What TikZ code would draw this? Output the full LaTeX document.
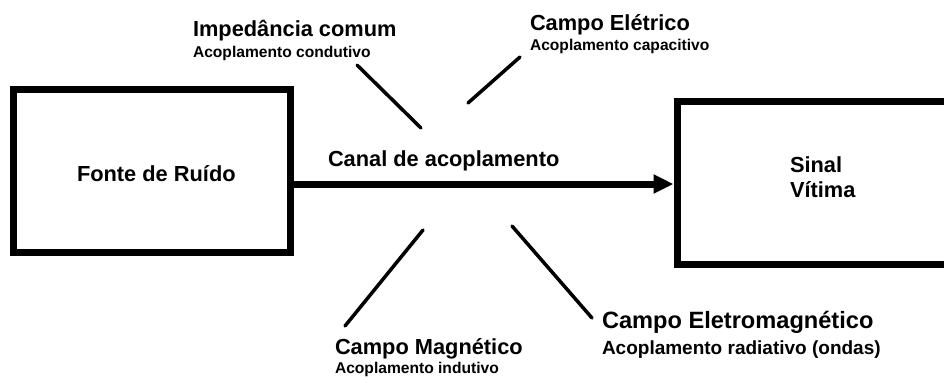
\documentclass[tikz,border=0pt]{standalone}
\usepackage{fontspec}
\setmainfont{Liberation Sans}
\usetikzlibrary{arrows.meta}
\begin{document}
\begin{tikzpicture}[x=1pt,y=-1pt,
  boxst/.style={draw=black,line width=7pt,inner sep=0pt},
  lbl/.style={anchor=base west,inner sep=0pt,outer sep=0pt,font=\bfseries},
  big/.style={lbl,font=\bfseries\fontsize{21.8}{26}\selectfont},
  small/.style={lbl,font=\bfseries\fontsize{15.6}{18}\selectfont},
  ray/.style={line width=3.5pt,line cap=round},
  mainarrow/.style={line width=7pt,-{Triangle[length=20pt,width=18pt]}}]
\useasboundingbox (0,0) rectangle (944,376);
\clip (0,0) rectangle (944,376);
\fill[white] (0,0) rectangle (944,376);
% boxes
\node[boxst,minimum width=277pt,minimum height=162.5pt] (src) at (152,170.75) {};
\node[boxst,minimum width=283pt,minimum height=163pt] (vic) at (818.5,183) {};
% arrow
\coordinate (ay) at (0,184);
\draw[mainarrow] (src.east |- ay) -- (vic.west |- ay);
% texts
\node[big] (fonte) at (77,181) {Fonte de Ruído};
\node[big] (sinal) at (790,172) {Sinal};
\node[big] (vitima) at (790,197) {Vítima};
\node[big] (canal) at (328,166) {Canal de acoplamento};
\node[big] (imp) at (193,36) {Impedância comum};
\node[small] (impb) at (193,57) {Acoplamento condutivo};
\node[big] (cel) at (530,30) {Campo Elétrico};
\node[small] (celb) at (530,50) {Acoplamento capacitivo};
\node[big] (cmag) at (335,354) {Campo Magnético};
\node[small] (cmagb) at (335,373) {Acoplamento indutivo};
\node[lbl,font=\bfseries\fontsize{23.6}{28}\selectfont] (cem) at (602,328) {Campo Eletromagnético};
\node[lbl,font=\bfseries\fontsize{19}{22}\selectfont] (cemb) at (602,354) {Acoplamento radiativo (ondas)};
% rays
\coordinate (r1a) at (357,65);  \coordinate (r1b) at (421,128);
\coordinate (r2a) at (468,103); \coordinate (r2b) at (520,57);
\coordinate (r3a) at (423,230); \coordinate (r3b) at (345,326);
\coordinate (r4a) at (512,226); \coordinate (r4b) at (592,318);
\draw[ray] (r1a) -- (r1b);
\draw[ray] (r2a) -- (r2b);
\draw[ray] (r3a) -- (r3b);
\draw[ray] (r4a) -- (r4b);
\end{tikzpicture}
\end{document}
